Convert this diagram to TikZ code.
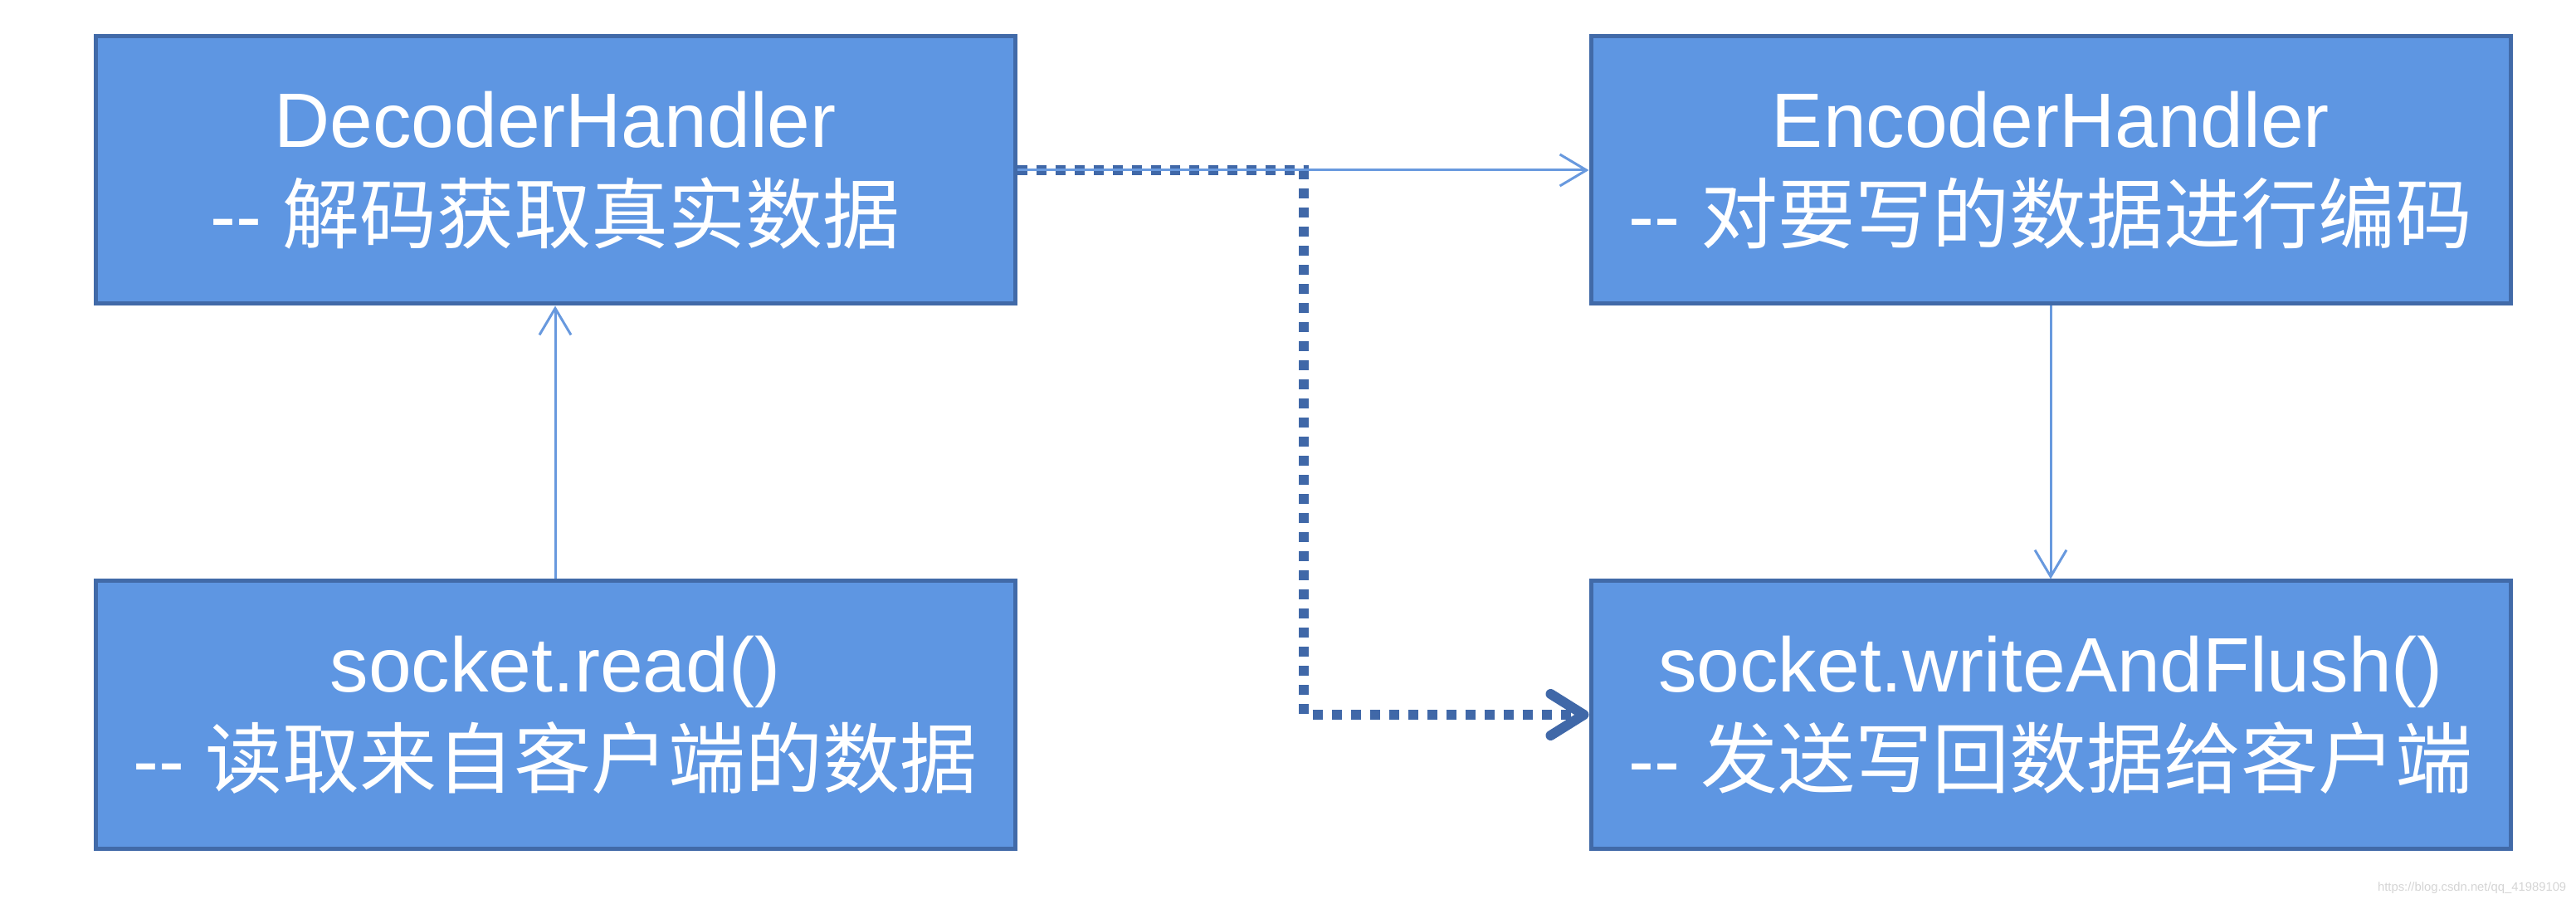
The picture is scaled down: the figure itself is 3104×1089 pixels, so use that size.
\documentclass[tikz,border=0pt]{standalone}
\usepackage{fontspec}
\setmainfont{Liberation Sans}
\newfontfamily\cjk{Noto Sans CJK SC}
\usetikzlibrary{arrows.meta}
\definecolor{boxfill}{RGB}{94,150,226}
\definecolor{boxline}{RGB}{65,106,168}
\definecolor{thinline}{RGB}{104,153,222}
\definecolor{dotline}{RGB}{64,104,168}
\definecolor{wmark}{RGB}{212,212,212}
\begin{document}
\begin{tikzpicture}[x=0.25pt,y=-0.25pt,
  box/.style={draw=boxline,fill=boxfill,line width=1.25pt,minimum width=277pt,minimum height=80.5pt,
    inner sep=0pt,align=center,text=white,font=\fontsize{23.25}{28.75}\selectfont},
  thinarrow/.style={draw=thinline,line width=0.75pt,-{Straight Barb[length=8pt,width=9.5pt,line width=0.75pt]}},
  dotarrow/.style={draw=dotline,line width=3pt,dash pattern=on 3pt off 2.75pt,
    -{Straight Barb[round,length=10pt,width=12.5pt,line width=3pt]}}]
\useasboundingbox (0,0) rectangle (3104,1089);
\node[box] (dec) at (669,205) {DecoderHandler\\-{}- {\cjk 解码获取真实数据}};
\node[box] (enc) at (2471,205) {EncoderHandler\\-{}- {\cjk 对要写的数据进行编码}};
\node[box] (rd) at (669,861) {socket.read()\\-{}- {\cjk 读取来自客户端的数据}};
\node[box] (wr) at (2471,861) {socket.writeAndFlush()\\-{}- {\cjk 发送写回数据给客户端}};
\coordinate (bend) at (1571,861);
\draw[dotarrow] (dec.east) -| (bend) -- (wr.west);
\draw[thinarrow] (rd.north) -- (dec.south);
\draw[thinarrow] (dec.east) -- (enc.west);
\draw[thinarrow] (enc.south) -- (wr.north);
\node[anchor=east,text=wmark,inner sep=0pt,font=\fontsize{3.7}{4}\selectfont] (wm) at (3093,1070) {https://blog.csdn.net/qq\_41989109};
\end{tikzpicture}
\end{document}
